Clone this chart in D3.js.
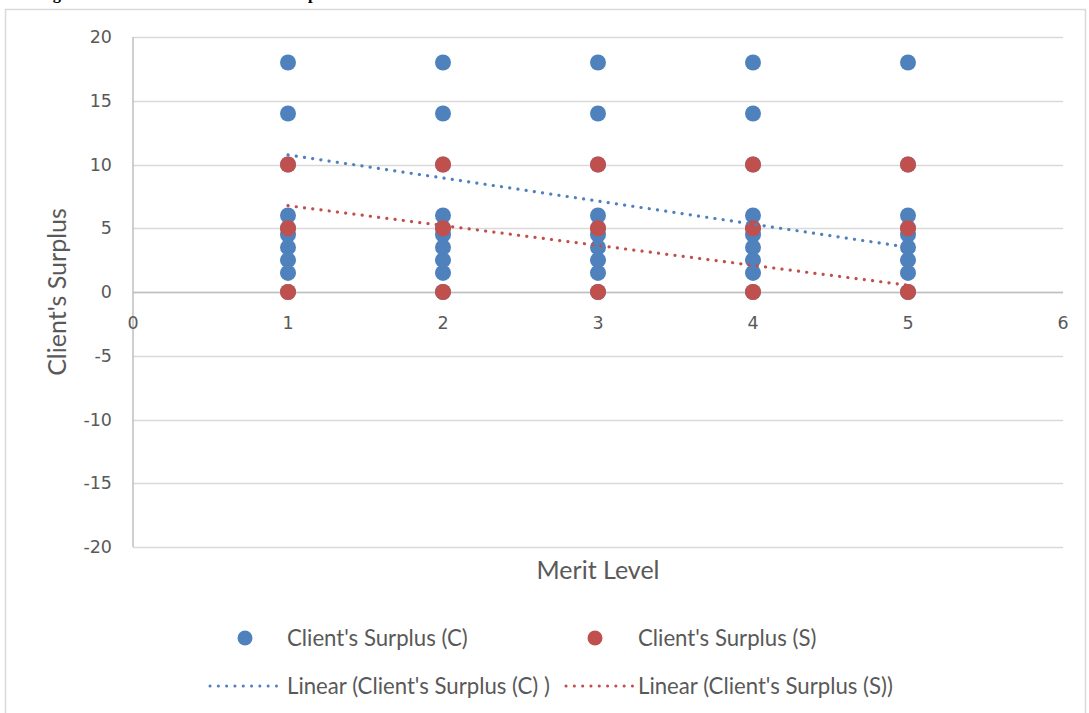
<!DOCTYPE html>
<html>
<head>
<meta charset="utf-8">
<script src="https://cdn.jsdelivr.net/npm/d3@7"></script>
<style>
  html, body { margin: 0; padding: 0; background: #fff; }
  svg { display: block; }
</style>
</head>
<body>
<svg id="chart" width="1089" height="713"></svg>
<script>
// Merit levels on the horizontal axis and surplus values observed at each level
const meritLevels = [1, 2, 3, 4, 5];
const surplusC = [
  [18, 14, 10, 6, 5, 4.5, 3.5, 2.5, 1.5, 0],
  [18, 14, 10, 6, 5, 4.5, 3.5, 2.5, 1.5, 0],
  [18, 14, 10, 6, 5, 4.5, 3.5, 2.5, 1.5, 0],
  [18, 14, 10, 6, 5, 4.5, 3.5, 2.5, 1.5, 0],
  [18, 10, 6, 5, 4.5, 3.5, 2.5, 1.5, 0]
];
const surplusS = [
  [10, 5, 0],
  [10, 5, 0],
  [10, 5, 0],
  [10, 5, 0],
  [10, 5, 0]
];
// Fitted linear trend lines (slope, intercept) for C and S
const trendSlope = [-1.81, -1.56];
const trendIntercept = [12.56, 8.33];
const seriesNames = ["Client's Surplus (C)", "Client's Surplus (S)"];
const trendNames = ["Linear (Client's Surplus (C) )", "Linear (Client's Surplus (S))"];
const xTicks = [0, 1, 2, 3, 4, 5, 6];
const yTicks = [20, 15, 10, 5, 0, -5, -10, -15, -20];

const colors = ["#4f81bd", "#c0504d"];
const labelFont = "Lato, 'Open Sans', sans-serif";
const tickFont = "'DejaVu Sans', Verdana, sans-serif";

const svg = d3.select("#chart");

// Caption above the chart frame (runs off the top of the page)
svg.append("text")
  .attr("x", 38).attr("y", -1)
  .attr("font-family", "'Liberation Serif', 'Times New Roman', serif")
  .attr("font-weight", "bold")
  .attr("font-size", 16.5)
  .attr("fill", "#000")
  .text("Figure 6: Merit Level and Client's Surplus");

// Chart frame
svg.append("rect")
  .attr("x", 5.5).attr("y", 9.5)
  .attr("width", 1080).attr("height", 720)
  .attr("fill", "#fff")
  .attr("stroke", "#d9d9d9").attr("stroke-width", 1.5);

const x = d3.scaleLinear().domain([0, 6]).range([133, 1063]);
const y = d3.scaleLinear().domain([-20, 20]).range([547, 37]);

// Horizontal gridlines
svg.append("g")
  .selectAll("line")
  .data(yTicks)
  .join("line")
  .attr("x1", x(0)).attr("x2", x(6))
  .attr("y1", d => Math.round(y(d)) + 0.5)
  .attr("y2", d => Math.round(y(d)) + 0.5)
  .attr("stroke", "#d9d9d9").attr("stroke-width", 1.5);

// Axis lines crossing at the origin
svg.append("line")
  .attr("x1", x(0)).attr("x2", x(0))
  .attr("y1", y(20)).attr("y2", y(-20))
  .attr("stroke", "#bfbfbf").attr("stroke-width", 1.5);
svg.append("line")
  .attr("x1", x(0)).attr("x2", x(6))
  .attr("y1", Math.round(y(0)) + 0.5).attr("y2", Math.round(y(0)) + 0.5)
  .attr("stroke", "#bfbfbf").attr("stroke-width", 1.5);

// Y tick labels
svg.append("g")
  .selectAll("text")
  .data(yTicks)
  .join("text")
  .attr("x", 112)
  .attr("y", d => y(d))
  .attr("dy", "0.35em")
  .attr("text-anchor", "end")
  .attr("font-family", tickFont)
  .attr("font-size", 17.5)
  .attr("fill", "#595959")
  .text(d => d);

// X tick labels just below the zero line
svg.append("g")
  .selectAll("text")
  .data(xTicks)
  .join("text")
  .attr("x", d => x(d))
  .attr("y", y(0) + 31)
  .attr("dy", "0.35em")
  .attr("text-anchor", "middle")
  .attr("font-family", tickFont)
  .attr("font-size", 17.5)
  .attr("fill", "#595959")
  .text(d => d);

// Axis titles
svg.append("text")
  .attr("transform", `translate(57, ${y(0)}) rotate(-90)`)
  .attr("text-anchor", "middle")
  .attr("dy", "0.35em")
  .attr("font-family", labelFont)
  .attr("font-size", 25)
  .attr("fill", "#595959")
  .text("Client's Surplus");
svg.append("text")
  .attr("x", x(3)).attr("y", 570)
  .attr("text-anchor", "middle")
  .attr("dy", "0.35em")
  .attr("font-family", labelFont)
  .attr("font-size", 25)
  .attr("fill", "#595959")
  .text("Merit Level");

// Scatter points
function pointsOf(series) {
  const pts = [];
  meritLevels.forEach((m, i) => series[i].forEach(v => pts.push({ m, v })));
  return pts;
}
[surplusC, surplusS].forEach((series, k) => {
  svg.append("g")
    .selectAll("circle")
    .data(pointsOf(series))
    .join("circle")
    .attr("cx", d => x(d.m))
    .attr("cy", d => y(d.v))
    .attr("r", 8)
    .attr("fill", colors[k]);
});

// Dotted linear trend lines across the merit range
const line = d3.line().x(d => x(d[0])).y(d => y(d[1]));
const xMin = d3.min(meritLevels), xMax = d3.max(meritLevels);
trendSlope.forEach((s, k) => {
  const b = trendIntercept[k];
  svg.append("path")
    .attr("d", line([[xMin, s * xMin + b], [xMax, s * xMax + b]]))
    .attr("fill", "none")
    .attr("stroke", colors[k])
    .attr("stroke-width", 3.2)
    .attr("stroke-linecap", "round")
    .attr("stroke-dasharray", "0.1 8.2");
});

// Legend
const legend = svg.append("g");
const legendMarkX = [245, 595];
const legendLineX = [[210, 282], [566, 633]];
const legendTextX = [287, 638];
seriesNames.forEach((name, k) => {
  legend.append("circle")
    .attr("cx", legendMarkX[k]).attr("cy", 638)
    .attr("r", 7.5).attr("fill", colors[k]);
  legend.append("text")
    .attr("x", legendTextX[k]).attr("y", 638)
    .attr("dy", "0.35em")
    .attr("font-family", labelFont)
    .attr("font-size", 22.2)
    .attr("fill", "#595959")
    .text(name);
});
trendNames.forEach((name, k) => {
  legend.append("line")
    .attr("x1", legendLineX[k][0]).attr("x2", legendLineX[k][1])
    .attr("y1", 686).attr("y2", 686)
    .attr("stroke", colors[k])
    .attr("stroke-width", 3)
    .attr("stroke-linecap", "round")
    .attr("stroke-dasharray", "0.1 8.2");
  legend.append("text")
    .attr("x", legendTextX[k]).attr("y", 686)
    .attr("dy", "0.35em")
    .attr("font-family", labelFont)
    .attr("font-size", 22.2)
    .attr("fill", "#595959")
    .text(name);
});
</script>
</body>
</html>
